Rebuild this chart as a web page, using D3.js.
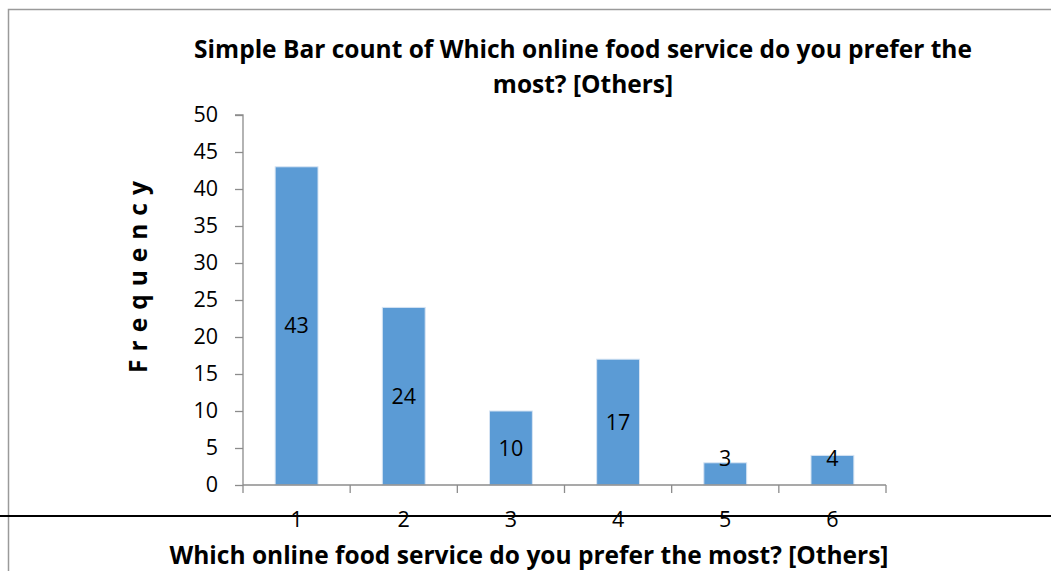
<!DOCTYPE html>
<html>
<head>
<meta charset="utf-8">
<script src="https://cdn.jsdelivr.net/npm/d3@7"></script>
<style>
  html, body { margin: 0; padding: 0; background: #fff; }
  svg { display: block; }
  text { font-family: "Open Sans", "Noto Sans", sans-serif; fill: #000; }
</style>
</head>
<body>
<svg id="chart" width="1051" height="571"></svg>
<script>
// Response categories and their counts
const categories = ["1", "2", "3", "4", "5", "6"];
const counts = [43, 24, 10, 17, 3, 4];
const yTicks = [0, 5, 10, 15, 20, 25, 30, 35, 40, 45, 50];

const titleLines = [
  "Simple Bar count of Which online food service do you prefer the",
  "most? [Others]"
];
const xTitle = "Which online food service do you prefer the most? [Others]";
const yTitle = "Frequency";

const svg = d3.select("#chart");
const W = 1051, H = 571;
const plot = { left: 243, right: 886, top: 115, bottom: 485 };
const labelSize = 21.5;
const titleSize = 24.5;

// Chart frame
svg.append("rect")
  .attr("x", 8.5).attr("y", 9.5)
  .attr("width", W + 10).attr("height", H + 10)
  .attr("fill", "#fff")
  .attr("stroke", "#9a9a9a").attr("stroke-width", 1.5);

const x = d3.scaleBand()
  .domain(categories)
  .range([plot.left, plot.right])
  .paddingInner(0.6).paddingOuter(0.3);

const y = d3.scaleLinear()
  .domain([0, 50])
  .range([plot.bottom, plot.top]);

// Bars
svg.append("g").selectAll("rect")
  .data(counts)
  .join("rect")
  .attr("x", (d, i) => x(categories[i]))
  .attr("y", d => y(d))
  .attr("width", x.bandwidth())
  .attr("height", d => y(0) - y(d))
  .attr("fill", "#5b9bd5")
  .attr("stroke", "#d6e4f3").attr("stroke-width", 1);

// Y axis
const yAxis = d3.axisLeft(y).tickValues(yTicks).tickSize(8).tickPadding(17);
const gy = svg.append("g").attr("transform", `translate(${plot.left},0)`).call(yAxis);
gy.attr("font-size", labelSize).attr("font-family", null);
gy.select(".domain").attr("stroke", "#8c8c8c").attr("stroke-width", 1.3)
  .attr("d", `M-8,${plot.top}H0V${plot.bottom}`);
gy.selectAll(".tick line").attr("stroke", "#8c8c8c").attr("stroke-width", 1.3);
gy.selectAll(".tick text").attr("fill", "#000");

// X axis: ticks sit on category boundaries
const boundaries = d3.range(categories.length + 1)
  .map(i => plot.left + i * x.step());
const gx = svg.append("g");
gx.append("line")
  .attr("x1", plot.left).attr("x2", plot.right)
  .attr("y1", plot.bottom).attr("y2", plot.bottom)
  .attr("stroke", "#8c8c8c").attr("stroke-width", 1.3);
gx.selectAll("line.tk")
  .data(boundaries)
  .join("line").attr("class", "tk")
  .attr("x1", d => d).attr("x2", d => d)
  .attr("y1", plot.bottom).attr("y2", plot.bottom + 8)
  .attr("stroke", "#8c8c8c").attr("stroke-width", 1.3);
gx.selectAll("text")
  .data(categories)
  .join("text")
  .attr("x", d => x(d) + x.bandwidth() / 2)
  .attr("y", 527)
  .attr("text-anchor", "middle")
  .attr("font-size", labelSize)
  .text(d => d);

// Value labels centred in each bar
svg.append("g").selectAll("text")
  .data(counts)
  .join("text")
  .attr("x", (d, i) => x(categories[i]) + x.bandwidth() / 2)
  .attr("y", d => Math.min((y(d) + y(0)) / 2, y(0) - 27))
  .attr("dy", "0.35em")
  .attr("text-anchor", "middle")
  .attr("font-size", labelSize)
  .text(d => d);

// Horizontal rule across the page
svg.append("line")
  .attr("x1", 0).attr("x2", W)
  .attr("y1", 516).attr("y2", 516)
  .attr("stroke", "#000").attr("stroke-width", 2);

// Title
svg.append("text")
  .attr("text-anchor", "middle")
  .attr("font-size", titleSize).attr("font-weight", "bold")
  .selectAll("tspan")
  .data(titleLines)
  .join("tspan")
  .attr("x", 583)
  .attr("y", (d, i) => 58 + i * 35)
  .text(d => d);

// Axis titles
svg.append("text")
  .attr("x", 529).attr("y", 564)
  .attr("text-anchor", "middle")
  .attr("font-size", titleSize).attr("font-weight", "bold")
  .text(xTitle);

svg.append("text")
  .attr("transform", "translate(147,273) rotate(-90)")
  .attr("text-anchor", "middle")
  .attr("font-size", titleSize).attr("font-weight", "bold")
  .attr("letter-spacing", "8px")
  .text(yTitle);
</script>
</body>
</html>
